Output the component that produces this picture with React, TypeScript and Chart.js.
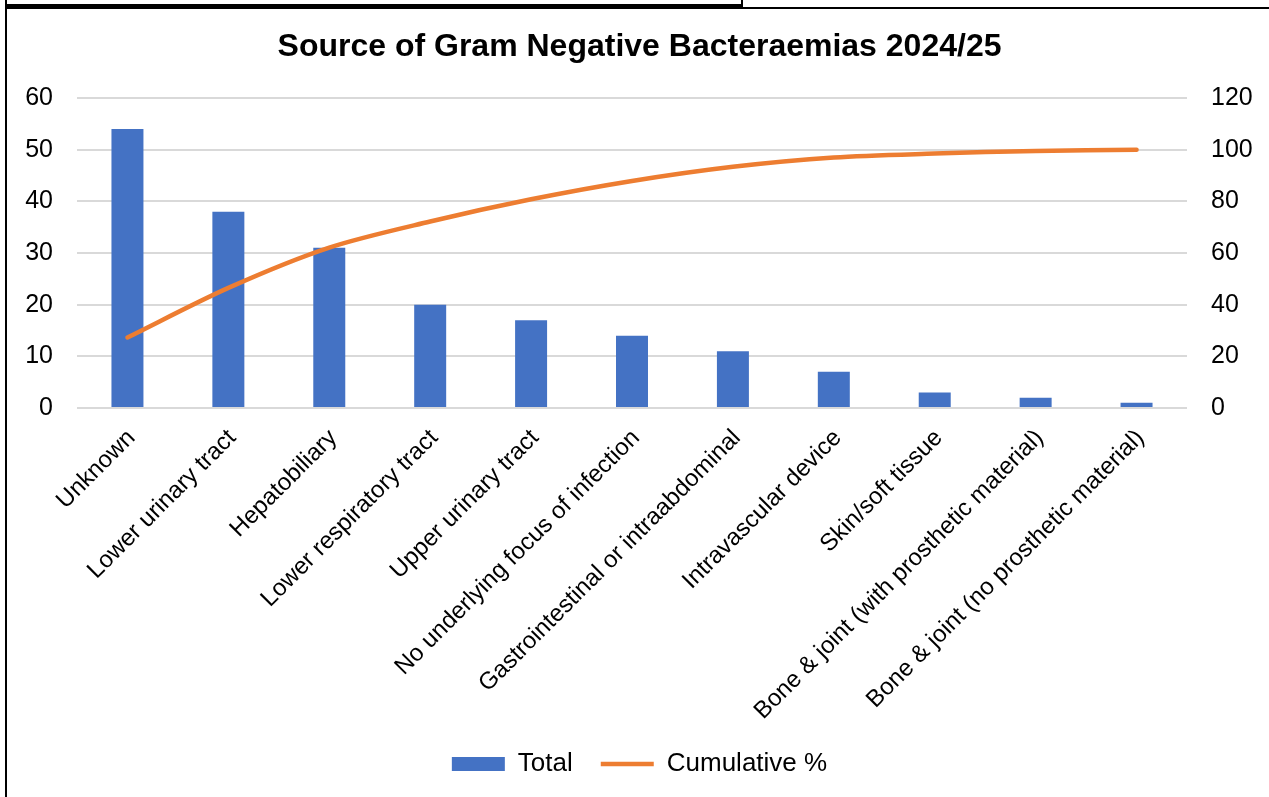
import { useEffect, useRef } from "react";
import { Chart, registerables } from "chart.js";

Chart.register(...registerables);

// Source categories, in descending order of count
const categories = [
  "Unknown",
  "Lower urinary tract",
  "Hepatobiliary",
  "Lower respiratory tract",
  "Upper urinary tract",
  "No underlying focus of infection",
  "Gastrointestinal or intraabdominal",
  "Intravascular device",
  "Skin/soft tissue",
  "Bone & joint (with prosthetic material)",
  "Bone & joint (no prosthetic material)",
];

// Number of bacteraemias per source
const totals = [54, 38, 31, 20, 17, 14, 11, 7, 3, 2, 1];

// Running share of all cases, in percent
const cumulativePct = [27.3, 46.5, 62.1, 72.2, 80.8, 87.9, 93.4, 97.0, 98.5, 99.5, 100];

// Axis ranges and tick steps
const countAxis = [0, 60, 10];
const pctAxis = [0, 120, 20];

const chartTitle = "Source of Gram Negative Bacteraemias 2024/25";
const seriesNames = ["Total", "Cumulative %"];

const FONT = "'Liberation Sans', Arial, Helvetica, sans-serif";
const BAR_BLUE = "#4472C4";
const LINE_ORANGE = "#ED7D31";
const GRID = "#d9d9d9";

export default function App() {
  const canvasRef = useRef<HTMLCanvasElement | null>(null);

  useEffect(() => {
    const canvas = canvasRef.current;
    if (!canvas) return;

    const chart = new Chart(canvas, {
      type: "bar",
      data: {
        labels: categories,
        datasets: [
          {
            type: "bar",
            label: seriesNames[0],
            data: totals,
            yAxisID: "y",
            backgroundColor: BAR_BLUE,
            borderWidth: 0,
            barPercentage: 0.317,
            categoryPercentage: 1,
            pointStyle: "rect",
            order: 1,
          },
          {
            type: "line",
            label: seriesNames[1],
            data: cumulativePct,
            yAxisID: "y1",
            borderColor: LINE_ORANGE,
            backgroundColor: LINE_ORANGE,
            borderWidth: 4.5,
            borderCapStyle: "round",
            borderJoinStyle: "round",
            tension: 0.3,
            pointRadius: 0,
            pointHoverRadius: 0,
            pointStyle: "line",
            fill: false,
            order: 0,
          },
        ],
      },
      options: {
        responsive: false,
        animation: false,
        maintainAspectRatio: false,
        layout: { padding: { left: 10, right: 0, top: 0, bottom: 10 } },
        plugins: {
          title: {
            display: true,
            text: chartTitle,
            color: "#000",
            font: { family: FONT, size: 32, weight: "bold", lineHeight: 1.2 },
            padding: { top: 27.8, bottom: 31.8 },
          },
          legend: {
            display: true,
            position: "bottom",
            labels: {
              color: "#000",
              font: { family: FONT, size: 26 },
              usePointStyle: true,
              pointStyleWidth: 53,
              boxHeight: 14,
              padding: 28,
              sort: (a: any, b: any) => a.datasetIndex - b.datasetIndex,
            },
          },
          tooltip: { enabled: false },
        },
        scales: {
          x: {
            offset: true,
            grid: { display: false, drawTicks: false },
            border: { display: false },
            ticks: {
              color: "#000",
              font: { family: FONT, size: 24 },
              minRotation: 45,
              maxRotation: 45,
              autoSkip: false,
              padding: 16,
              labelOffset: 4,
            },
            afterFit: (scale: any) => {
              scale.height = 315;
            },
          },
          y: {
            position: "left",
            min: countAxis[0],
            max: countAxis[1],
            grid: { color: GRID, lineWidth: 2, drawTicks: false },
            border: { display: false },
            ticks: {
              stepSize: countAxis[2],
              color: "#000",
              font: { family: FONT, size: 25 },
              padding: 24,
            },
            afterFit: (scale: any) => {
              scale.width = 67;
            },
          },
          y1: {
            position: "right",
            min: pctAxis[0],
            max: pctAxis[1],
            grid: { display: false, drawOnChartArea: false, drawTicks: false },
            border: { display: false },
            ticks: {
              stepSize: pctAxis[2],
              color: "#000",
              font: { family: FONT, size: 25 },
              padding: 24,
            },
            afterFit: (scale: any) => {
              scale.width = 82;
            },
          },
        },
      },
    });

    return () => chart.destroy();
  }, []);

  return (
    <div
      style={{
        position: "fixed",
        left: 0,
        top: 0,
        width: 1269,
        height: 797,
        background: "#fff",
        overflow: "hidden",
      }}
    >
      <canvas
        ref={canvasRef}
        width={1269}
        height={797}
        style={{ display: "block", width: 1269, height: 797 }}
      />
      {/* frame lines around the chart */}
      <div style={{ position: "absolute", left: 5, top: 0, width: 2, height: 797, background: "#000" }} />
      <div style={{ position: "absolute", left: 5, top: 4, width: 738, height: 5, background: "#000" }} />
      <div style={{ position: "absolute", left: 741, top: 0, width: 2, height: 9, background: "#000" }} />
      <div style={{ position: "absolute", left: 743, top: 7, width: 526, height: 2, background: "#000" }} />
    </div>
  );
}
